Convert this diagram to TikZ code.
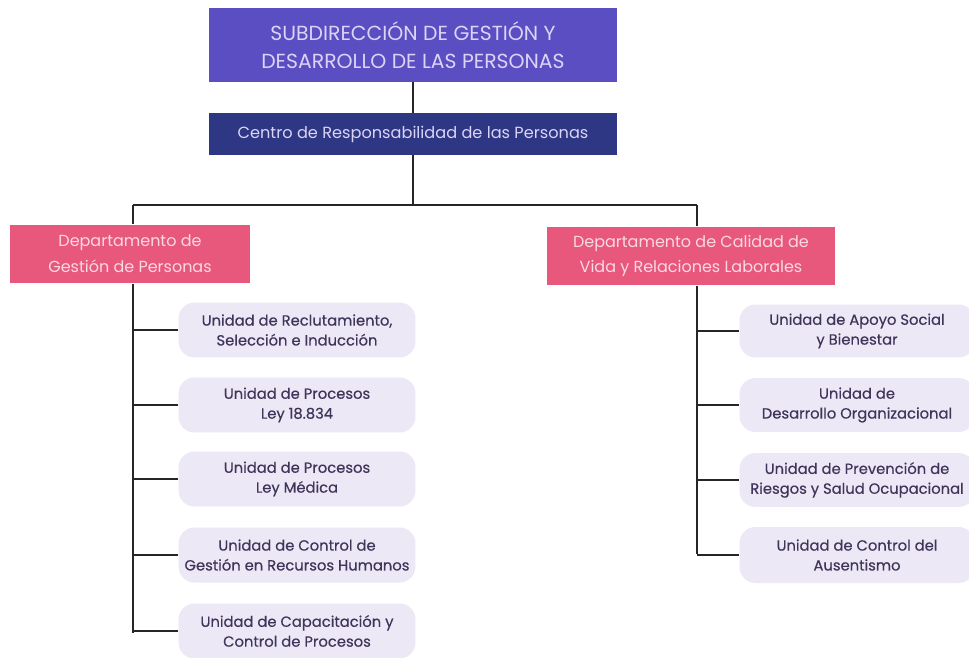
\documentclass[tikz,border=0pt]{standalone}
\usepackage{fontspec}
\setmainfont{Poppins}
\newfontfamily\unitfont{Poppins}[FakeBold=0.4]
\usetikzlibrary{calc}
\definecolor{titlefill}{HTML}{5A4EC2}
\definecolor{titletext}{HTML}{DCD4F6}
\definecolor{centrofill}{HTML}{2E3784}
\definecolor{deptfill}{HTML}{E8587D}
\definecolor{depttext}{HTML}{FBD9E2}
\definecolor{unitfill}{HTML}{ECE8F6}
\definecolor{unittext}{HTML}{40345A}
\tikzset{
  titlebox/.style={fill=titlefill,text=titletext,align=center,inner sep=0pt,
    minimum width=8.16cm,minimum height=1.48cm,font=\fontsize{11.6}{15.8}\selectfont},
  centrobox/.style={fill=centrofill,text=titletext,align=center,inner sep=0pt,
    minimum width=8.16cm,minimum height=0.84cm,font=\fontsize{9.2}{12}\selectfont},
  deptbox/.style={fill=deptfill,text=depttext,align=center,inner sep=0pt,
    minimum height=1.18cm,font=\fontsize{9.1}{14.7}\selectfont},
  unitbox/.style={fill=unitfill,text=unittext,align=center,inner sep=0pt,
    rounded corners=0.32cm,minimum width=4.74cm,minimum height=1.1cm,
    font=\unitfont\fontsize{8.4}{11.3}\selectfont},
  link/.style={draw=black!85,line width=1.1pt}
}
\begin{document}
\begin{tikzpicture}[x=0.02cm,y=-0.02cm]
  \useasboundingbox[fill=white] (0,0) rectangle (969,658);
  \node[titlebox] (sub) at (413,45) {SUBDIRECCIÓN DE GESTIÓN Y\\DESARROLLO DE LAS PERSONAS};
  \node[centrobox] (centro) at (413,134) {Centro de Responsabilidad de las Personas};
  \node[deptbox,minimum width=4.8cm] (dgp) at (130,254) {Departamento de\\Gestión de Personas};
  \node[deptbox,minimum width=5.76cm] (dcv) at (691,256) {Departamento de Calidad de\\Vida y Relaciones Laborales};
  % unidades izquierda
  \node[unitbox] (u1) at (297,330) {Unidad de Reclutamiento,\\Selección e Inducción};
  \node[unitbox] (u2) at (297,405) {Unidad de Procesos\\Ley 18.834};
  \node[unitbox] (u3) at (297,479) {Unidad de Procesos\\Ley Médica};
  \node[unitbox] (u4) at (297,555) {Unidad de Control de\\Gestión en Recursos Humanos};
  \node[unitbox] (u5) at (297,631) {Unidad de Capacitación y\\Control de Procesos};
  % unidades derecha
  \node[unitbox,minimum width=4.7cm,minimum height=1.06cm] (v1) at (857,331) {Unidad de Apoyo Social\\y Bienestar};
  \node[unitbox,minimum width=4.7cm,minimum height=1.08cm] (v2) at (857,405) {Unidad de\\Desarrollo Organizacional};
  \node[unitbox,minimum width=4.7cm,minimum height=1.08cm] (v3) at (857,480) {Unidad de Prevención de\\Riesgos y Salud Ocupacional};
  \node[unitbox,minimum width=4.7cm,minimum height=1.12cm] (v4) at (857,555) {Unidad de Control del\\Ausentismo};
  % conectores
  \coordinate (bus) at (413,205);
  \coordinate (lbus) at (133,205);
  \coordinate (rbus) at (697,205);
  \coordinate (lend) at (133,633);
  \coordinate (rend) at (697,554);
  \draw[link] (sub) -- (centro);
  \draw[link] (centro) -- (bus);
  \draw[link] (lbus) -- (rbus);
  \draw[link] (lbus) -- (dgp.north -| lbus);
  \draw[link] (rbus) -- (dcv.north -| rbus);
  \draw[link] (dgp.south -| lbus) -- (lend);
  \draw[link] (dcv.south -| rbus) -- (rend);
  \foreach \u in {u1,u2,u3,u4,u5}
    \draw[link] (\u.west -| lbus) -- (\u.west);
  \foreach \v in {v1,v2,v3,v4}
    \draw[link] (\v.west -| rbus) -- (\v.west);
\end{tikzpicture}
\end{document}
